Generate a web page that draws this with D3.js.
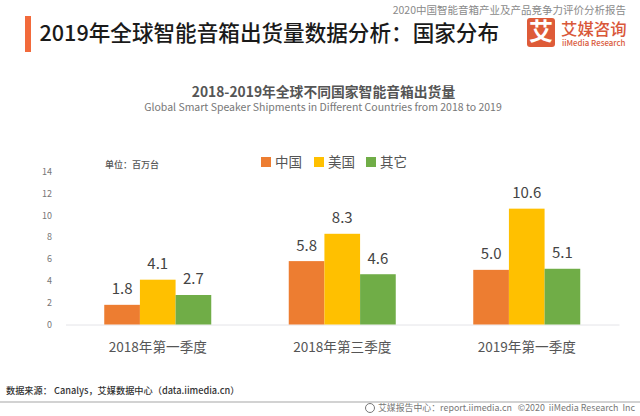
<!DOCTYPE html>
<html><head><meta charset="utf-8">
<script src="https://cdn.jsdelivr.net/npm/d3@7/dist/d3.min.js"></script>
<style>html,body{margin:0;padding:0;background:#fff;overflow:hidden}svg{display:block}
text{font-family:"Noto Sans CJK SC","Noto Sans",sans-serif;white-space:pre}</style></head>
<body><svg id="c" width="640" height="416"></svg>
<script>
const categories=["2018年第一季度","2018年第三季度","2019年第一季度"];
const seriesNames=["中国","美国","其它"];
const china=[1.8,5.8,5.0];
const usa=[4.1,8.3,10.6];
const other=[2.7,4.6,5.1];
const yTicks=[0,2,4,6,8,10,12,14];
const colors=["#ED7D31","#FFC000","#70AD47"];
const seriesValues=[china,usa,other];

const svg=d3.select("#c");
const txt=(x,y,s,size,fill,anchor="start",weight=400)=>svg.append("text").attr("x",x).attr("y",y)
  .attr("font-size",size).attr("fill",fill).attr("text-anchor",anchor).attr("font-weight",weight).text(s);

// header
svg.append("rect").attr("x",25).attr("y",16).attr("width",6).attr("height",36).attr("fill","#F26A3B");
txt(39.5,40.5,"2019年全球智能音箱出货量数据分析：国家分布",21.6,"#1a1a1a","start",500);
txt(626,14,"2020中国智能音箱产业及产品竞争力评价分析报告",10.5,"#8a8a8a","end");

// logo
svg.append("rect").attr("x",527).attr("y",18).attr("width",28).attr("height",29).attr("rx",3).attr("fill","#DE5B38");
txt(541,40,"艾",24,"#fff","middle",700);
txt(561,34.5,"艾媒咨询",16.4,"#D9583A","start",500);
txt(562,45.5,"iiMedia Research",7.9,"#D9583A","start",500);

// chart titles
txt(323.5,96.5,"2018-2019年全球不同国家智能音箱出货量",13.8,"#555","middle",700);
txt(323,111,"Global Smart Speaker Shipments in Different Countries from 2018 to 2019",10.5,"#777","middle");
txt(105,168,"单位：百万台",9,"#555","start",500);

// scales
const x=d3.scaleBand().domain(categories).range([65.5,619]);
const y=d3.scaleLinear().domain([0,14]).range([324.5,171.5]);
const inner=d3.scaleBand().domain(d3.range(3)).range([-53.5,53.5]);

// axis
const gx=svg.append("g").attr("transform","translate(0,324.5)")
  .call(d3.axisBottom(x).tickSize(0).tickPadding(18));
gx.select(".domain").attr("stroke","#e4e4e8").attr("stroke-width",1);
gx.selectAll("text").attr("font-size",13.6).attr("fill","#555").attr("font-family",'"Noto Sans CJK SC",sans-serif');
const gy=svg.append("g").attr("transform","translate(56,0)")
  .call(d3.axisLeft(y).tickValues(yTicks).tickSize(0).tickPadding(4));
gy.select(".domain").remove();
gy.selectAll("text").attr("font-size",9).attr("fill","#777").attr("font-family",'"Noto Sans",sans-serif');

// bars
seriesValues.forEach((vals,i)=>{
  const g=svg.append("g");
  g.selectAll("rect").data(vals).join("rect")
    .attr("x",(d,j)=>x(categories[j])+x.bandwidth()/2+inner(i))
    .attr("width",inner.bandwidth())
    .attr("y",d=>y(d)).attr("height",d=>y(0)-y(d)).attr("fill",colors[i]);
  g.selectAll("text").data(vals).join("text")
    .attr("x",(d,j)=>x(categories[j])+x.bandwidth()/2+inner(i)+inner.bandwidth()/2)
    .attr("y",d=>y(d)-10.5).attr("text-anchor","middle").attr("font-size",15).attr("fill","#444")
    .attr("font-family",'"Noto Sans",sans-serif').text(d=>d.toFixed(1));
});

// legend
const legendX=[261,314,366];
seriesNames.forEach((n,i)=>{
  svg.append("rect").attr("x",legendX[i]).attr("y",157).attr("width",10).attr("height",10).attr("fill",colors[i]);
  txt(legendX[i]+14,167,n,13.5,"#555");
});

// footer
txt(6,394,"数据来源： Canalys，艾媒数据中心（data.iimedia.cn）",9.2,"#333","start",500);
svg.append("line").attr("x1",0).attr("x2",640).attr("y1",402).attr("y2",402).attr("stroke","#a6a6a6").attr("stroke-width",1.2);
svg.append("circle").attr("cx",370).attr("cy",408).attr("r",4.5).attr("fill","none").attr("stroke","#777");
txt(378,411,"艾媒报告中心：report.iimedia.cn   ©2020  iiMedia Research  Inc",8.9,"#777");
</script></body></html>
